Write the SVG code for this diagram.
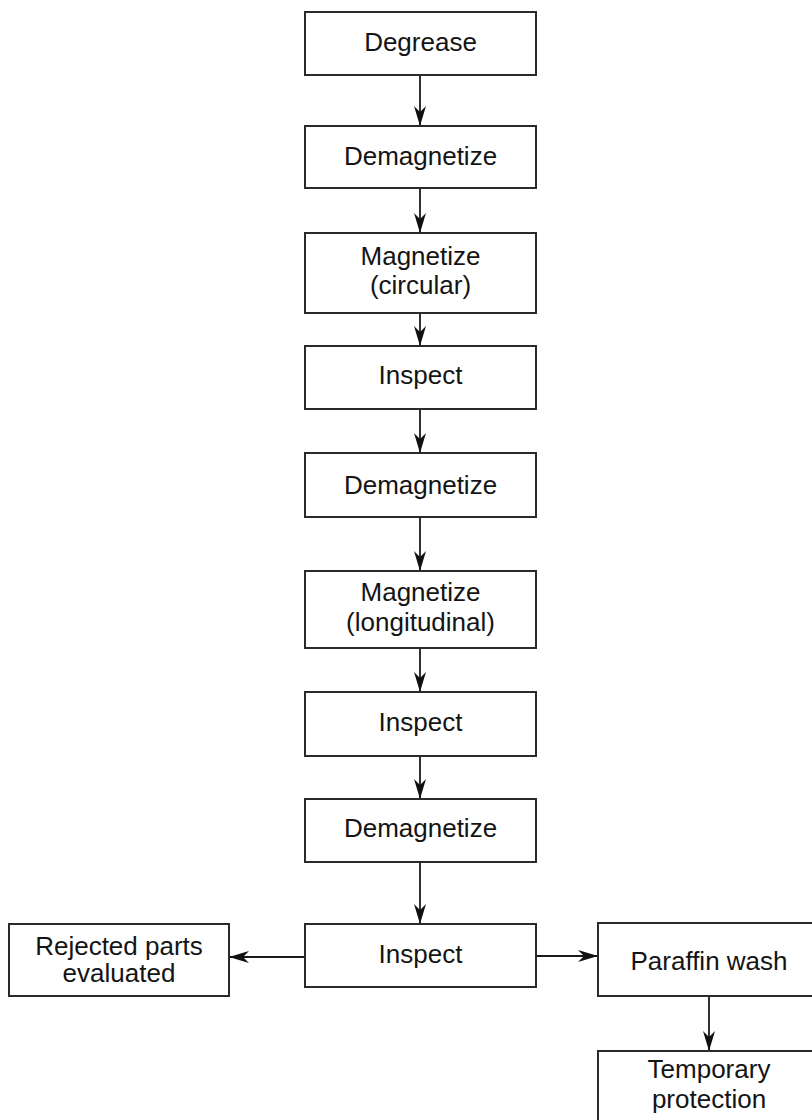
<svg xmlns="http://www.w3.org/2000/svg" width="812" height="1120" viewBox="0 0 812 1120">
  <style>
    .box { fill: #ffffff; stroke: #2a2a2a; stroke-width: 2; }
    .lbl { font-family: "Liberation Sans", Arial, sans-serif; font-size: 26px; fill: #141414; text-anchor: middle; }
    .conn { stroke: #1a1a1a; stroke-width: 1.8; fill: none; marker-end: url(#arrow); }
  </style>
  <defs>
    <marker id="arrow" markerUnits="userSpaceOnUse" viewBox="-20 -7 20 14" refX="0" refY="0" markerWidth="20" markerHeight="14" orient="auto">
      <path d="M0,0 L-20,-6 L-14,0 L-20,6 Z" fill="#111111"/>
    </marker>
  </defs>
  <rect width="812" height="1120" fill="#ffffff"/>

  <g id="connectors">
    <line class="conn" x1="420" y1="75" x2="420" y2="126"/>
    <line class="conn" x1="420" y1="188" x2="420" y2="233"/>
    <line class="conn" x1="420" y1="313" x2="420" y2="346"/>
    <line class="conn" x1="420" y1="409" x2="420" y2="453"/>
    <line class="conn" x1="420" y1="517" x2="420" y2="571"/>
    <line class="conn" x1="420" y1="648" x2="420" y2="692"/>
    <line class="conn" x1="420" y1="756" x2="420" y2="799"/>
    <line class="conn" x1="420" y1="862" x2="420" y2="924"/>
    <line class="conn" x1="305" y1="957" x2="229" y2="957"/>
    <line class="conn" x1="536" y1="956" x2="598" y2="956"/>
    <line class="conn" x1="709" y1="996" x2="709" y2="1051"/>
  </g>

  <g id="n1">
    <rect class="box" x="305" y="12" width="231" height="63"/>
    <text class="lbl" x="420.5" y="51">Degrease</text>
  </g>
  <g id="n2">
    <rect class="box" x="305" y="126" width="231" height="62"/>
    <text class="lbl" x="420.5" y="165">Demagnetize</text>
  </g>
  <g id="n3">
    <rect class="box" x="305" y="233" width="231" height="80"/>
    <text class="lbl" x="420.5" y="265">Magnetize</text>
    <text class="lbl" x="420.5" y="294">(circular)</text>
  </g>
  <g id="n4">
    <rect class="box" x="305" y="346" width="231" height="63"/>
    <text class="lbl" x="420.5" y="384">Inspect</text>
  </g>
  <g id="n5">
    <rect class="box" x="305" y="453" width="231" height="64"/>
    <text class="lbl" x="420.5" y="494">Demagnetize</text>
  </g>
  <g id="n6">
    <rect class="box" x="305" y="571" width="231" height="77"/>
    <text class="lbl" x="420.5" y="601">Magnetize</text>
    <text class="lbl" x="420.5" y="631">(longitudinal)</text>
  </g>
  <g id="n7">
    <rect class="box" x="305" y="692" width="231" height="64"/>
    <text class="lbl" x="420.5" y="731">Inspect</text>
  </g>
  <g id="n8">
    <rect class="box" x="305" y="799" width="231" height="63"/>
    <text class="lbl" x="420.5" y="837">Demagnetize</text>
  </g>
  <g id="n9">
    <rect class="box" x="305" y="924" width="231" height="63"/>
    <text class="lbl" x="420.5" y="963">Inspect</text>
  </g>
  <g id="n10">
    <rect class="box" x="9" y="924" width="220" height="72"/>
    <text class="lbl" x="119" y="955">Rejected parts</text>
    <text class="lbl" x="119" y="982">evaluated</text>
  </g>
  <g id="n11">
    <rect class="box" x="598" y="923" width="223" height="73"/>
    <text class="lbl" x="709" y="970">Paraffin wash</text>
  </g>
  <g id="n12">
    <rect class="box" x="598" y="1051" width="223" height="80"/>
    <text class="lbl" x="709" y="1078">Temporary</text>
    <text class="lbl" x="709" y="1108">protection</text>
  </g>
</svg>
